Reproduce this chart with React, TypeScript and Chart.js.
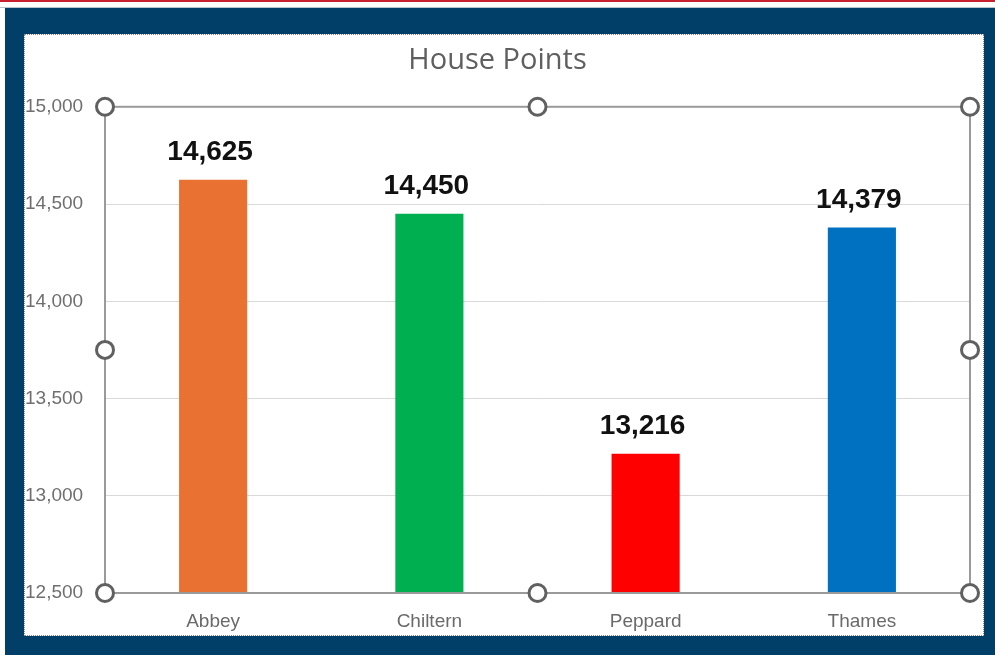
import React, { useEffect, useRef } from "react";
import { Chart, registerables } from "chart.js";

Chart.register(...registerables);

const categories = ["Abbey", "Chiltern", "Peppard", "Thames"];
const points = [14625, 14450, 13216, 14379];
const barColors = ["#E97132", "#00B050", "#FF0000", "#0070C0"];
const yMin = 12500;
const yMax = 15000;
const yStep = 500;
const chartTitle = "House Points";

const fmt = (v: number) => v.toLocaleString("en-US");

const labelPlugin = {
  id: "valueLabels",
  afterDatasetsDraw(chart: any) {
    const ctx = chart.ctx;
    const meta = chart.getDatasetMeta(0);
    ctx.save();
    ctx.font = "bold 28px 'Liberation Sans', Arial, sans-serif";
    ctx.fillStyle = "#111111";
    ctx.textAlign = "center";
    ctx.textBaseline = "alphabetic";
    meta.data.forEach((bar: any, i: number) => {
      ctx.fillText(fmt(points[i]), bar.x - 3, bar.y - 20);
    });
    ctx.restore();
  },
};

const selectionPlugin = {
  id: "selectionBox",
  afterDraw(chart: any) {
    const { ctx, chartArea } = chart;
    const { left, right, top, bottom } = chartArea;
    ctx.save();
    ctx.strokeStyle = "#9a9a9a";
    ctx.lineWidth = 2;
    ctx.strokeRect(left, top, right - left, bottom - top);
    const mx = (left + right) / 2;
    const my = (top + bottom) / 2;
    const handles = [
      [left, top], [mx, top], [right, top],
      [left, my], [right, my],
      [left, bottom], [mx, bottom], [right, bottom],
    ];
    ctx.lineWidth = 3;
    ctx.strokeStyle = "#606060";
    ctx.fillStyle = "#ffffff";
    handles.forEach(([x, y]) => {
      ctx.beginPath();
      ctx.arc(x, y, 8.5, 0, Math.PI * 2);
      ctx.fill();
      ctx.stroke();
    });
    ctx.restore();
  },
};

export default function App() {
  const canvasRef = useRef<HTMLCanvasElement | null>(null);

  useEffect(() => {
    if (!canvasRef.current) return;
    const chart = new Chart(canvasRef.current, {
      type: "bar",
      data: {
        labels: categories,
        datasets: [
          {
            data: points,
            backgroundColor: barColors,
            borderWidth: 0,
            categoryPercentage: 1,
            barPercentage: 0.315,
          },
        ],
      },
      options: {
        responsive: false,
        animation: false,
        layout: { padding: { left: 1, right: 14, top: 0, bottom: 0 } },
        plugins: {
          legend: { display: false },
          tooltip: { enabled: false },
          title: {
            display: true,
            text: chartTitle,
            color: "#5f5f5f",
            font: { family: "'Open Sans', sans-serif", size: 29, weight: "normal" },
            padding: { top: 9, bottom: 29 },
          },
        },
        scales: {
          x: {
            grid: { display: false, drawTicks: false },
            border: { display: false },
            ticks: {
              color: "#6a6a6a",
              font: { family: "'Liberation Sans', Arial, sans-serif", size: 19 },
              padding: 17,
            },
            afterFit(scale: any) {
              scale.height = 43;
            },
          },
          y: {
            min: yMin,
            max: yMax,
            grid: { color: "#d9d9d9", lineWidth: 1, drawTicks: false },
            border: { display: false },
            ticks: {
              stepSize: yStep,
              color: "#6f6f6f",
              crossAlign: "far",
              font: { family: "'Liberation Sans', Arial, sans-serif", size: 19 },
              callback: (v: any) => fmt(Number(v)),
            },
            afterFit(scale: any) {
              scale.width = 80;
            },
          },
        },
      },
      plugins: [labelPlugin, selectionPlugin],
    });
    return () => chart.destroy();
  }, []);

  return (
    <div style={{ position: "fixed", left: 0, top: 0, width: 995, height: 655, background: "#ffffff", overflow: "hidden" }}>
      <div style={{ position: "absolute", left: 0, top: 0, width: 995, height: 2, background: "#C8202F" }} />
      <div style={{ position: "absolute", left: 0, top: 7, width: 995, height: 1, background: "#b9c3cc" }} />
      <div style={{ position: "absolute", left: 5, top: 8, width: 990, height: 647, background: "#023F68" }} />
      <div style={{ position: "absolute", left: 24, top: 34, width: 960, height: 602, background: "#ffffff" }} />
      <canvas
        ref={canvasRef}
        width={960}
        height={602}
        style={{ position: "absolute", left: 24, top: 34, width: 960, height: 602 }}
      />
      <div
        style={{
          position: "absolute",
          left: 24,
          top: 34,
          width: 960,
          height: 602,
          boxSizing: "border-box",
          border: "1px dotted #8a8a8a",
          pointerEvents: "none",
        }}
      />
    </div>
  );
}
